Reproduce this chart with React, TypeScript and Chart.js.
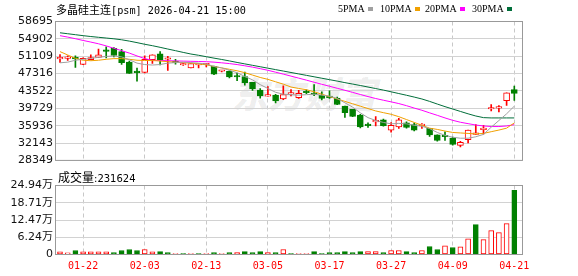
import React, { useEffect, useRef } from "react";
import { Chart, registerables } from "chart.js";

Chart.register(...registerables);

// ---------------- data ----------------
const dates = [
  "01-19", "01-20", "01-21", "01-22", "01-23", "01-26", "01-27", "01-28", "01-29", "01-30",
  "02-02", "02-03", "02-04", "02-05", "02-06", "02-09", "02-10", "02-11", "02-12", "02-13",
  "02-24", "02-25", "02-26", "02-27", "03-02", "03-03", "03-04", "03-05", "03-06", "03-09",
  "03-10", "03-11", "03-12", "03-13", "03-16", "03-17", "03-18", "03-19", "03-20", "03-23",
  "03-24", "03-25", "03-26", "03-27", "03-30", "03-31", "04-01", "04-02", "04-03", "04-07",
  "04-08", "04-09", "04-10", "04-13", "04-14", "04-15", "04-16", "04-17", "04-20", "04-21",
];
const tickDates = ["01-22", "02-03", "02-13", "03-05", "03-17", "03-27", "04-09", "04-21"];

const opens = [
  50544, 50649, 50753, 49332, 50336, 50858, 52321, 52843, 52112, 49813,
  47619, 47577, 50377, 51631, 50440, 49813, 49186, 48559, 49186, 49248,
  48914, 47827, 47827, 46678, 46678, 45382, 43689, 42393, 42644, 41766,
  42811, 42080, 43292, 42853, 42540, 42185, 41976, 40199, 39509, 38276,
  36061, 36750, 37210, 34974, 35664, 36542, 36165, 35956, 35329, 33929,
  33615, 33240, 31630, 32884, 34034, 35079, 39572, 39781, 41390, 43814,
];
const highs = [
  51485, 51213, 51171, 50753, 51422, 52676, 53157, 53011, 52634, 50022,
  48517, 51171, 51422, 52112, 51067, 50440, 49500, 49500, 49395, 49541,
  48977, 47932, 47932, 47410, 47619, 45424, 44023, 44484, 42770, 44650,
  43814, 43647, 43752, 44902, 43334, 43543, 42185, 40199, 39509, 38423,
  36542, 37900, 37377, 36592, 37545, 36750, 36500, 36374, 35329, 33929,
  34618, 33449, 32529, 34974, 36166, 36019, 40554, 40346, 43125, 44588,
];
const lows = [
  49750, 50168, 48663, 49290, 50294, 50858, 50753, 50962, 49332, 47368,
  45633, 47452, 49541, 49186, 48005, 49395, 49081, 48559, 48559, 48768,
  47096, 47661, 46364, 45779, 44797, 43647, 41934, 42393, 40930, 41599,
  42435, 41871, 42916, 42498, 41551, 41871, 40512, 37753, 37900, 35455,
  35538, 35873, 35810, 34493, 35329, 35392, 34765, 35329, 33573, 32529,
  32738, 31693, 31275, 32194, 34034, 34075, 39154, 38945, 40346, 41432,
];
const closes = [
  50753, 50858, 50544, 50649, 50796, 51422, 52175, 51276, 49708, 47368,
  47514, 50440, 51422, 50231, 50649, 49708, 49332, 49500, 49332, 49353,
  47200, 47932, 46573, 46573, 45257, 43961, 42435, 42498, 41348, 42707,
  42916, 43021, 43125, 42749, 41871, 42080, 40554, 38798, 37962, 35664,
  35956, 36897, 35915, 36019, 37210, 35538, 34974, 36061, 33929, 32738,
  33511, 31839, 32320, 34974, 34347, 35183, 39677, 39927, 43125, 42978,
];

const ma5 = [
  49667, 49813, 50231, 50440, 50649, 50858, 51067, 51171, 50962, 50335,
  49604, 49290, 49186, 49290, 49604, 49708, 49813, 49708, 49604, 49395,
  48872, 48559, 48037, 47514, 46678, 45946, 44901, 44065, 43230, 42811,
  42707, 42603, 42707, 42811, 42603, 42394, 41871, 40931, 39990, 38736,
  37691, 37064, 36646, 36333, 36437, 36333, 36019, 35810, 35288, 34453,
  33826, 33407, 33198, 33198, 33511, 34034, 35601, 37064, 38527, 40199,
];
const ma10 = [
  52112, 51380, 50649, 50231, 50126, 50231, 50440, 50587, 50587, 50440,
  50231, 50168, 50168, 50064, 49917, 49813, 49708, 49604, 49436, 49228,
  48872, 48559, 48246, 47932, 47514, 46991, 46469, 46051, 45528, 45006,
  44379, 44065, 43794, 43334, 42812, 42289, 41767, 41244, 40722, 40199,
  39677, 39154, 38778, 38423, 37900, 37273, 36646, 36019, 35392, 35120,
  34765, 34452, 34347, 34242, 34138, 34242, 34619, 34974, 35392, 36541,
];
const ma20 = [
  55602, 55289, 54934, 54557, 54202, 53826, 53366, 52844, 52321, 51799,
  51172, 50586, 50231, 50168, 50126, 50085, 50043, 50001, 49959, 49917,
  49813, 49667, 49500, 49290, 49019, 48726, 48392, 48037, 47619, 47200,
  46762, 46323, 45884, 45424, 44985, 44546, 44107, 43668, 43209, 42749,
  42289, 41871, 41495, 41140, 40764, 40304, 39781, 39300, 38736, 38193,
  37627, 37105, 36687, 36374, 36082, 35872, 35747, 35747, 35872, 36165,
];
const ma30 = [
  56229, 56020, 55811, 55602, 55414, 55247, 55080, 54913, 54704, 54411,
  54077, 53721, 53408, 53053, 52677, 52321, 51945, 51590, 51318, 51004,
  50691, 50398, 50085, 49750, 49437, 49123, 48810, 48496, 48183, 47869,
  47556, 47242, 46929, 46615, 46302, 45988, 45675, 45340, 45027, 44713,
  44379, 44045, 43710, 43334, 42958, 42582, 42185, 41767, 41244, 40659,
  40095, 39572, 39049, 38527, 38046, 37691, 37628, 37628, 37628, 37628,
];

const volumes = [
  9600, 6000, 14400, 9600, 9600, 9600, 9600, 7200, 14400, 18000,
  14400, 18000, 9600, 10800, 7200, 3600, 3600, 3600, 3600, 3600,
  7200, 3600, 7200, 7200, 10800, 7200, 10800, 7200, 7200, 18000,
  3600, 3600, 3600, 10800, 3600, 7200, 7200, 10800, 7200, 10800,
  10800, 10800, 7200, 14400, 14400, 10800, 7200, 14400, 28800, 18000,
  31200, 25200, 27600, 56400, 107900, 54000, 86300, 79100, 111500, 231624,
];
// R = rising (red), G = falling (green), as coloured in the volume pane
const volumeDirs = "RRGRRRRGGGGRRGGRGRGRGRGRGGGRGRGRRGGGGGGGRRGRRGGRGGRGRRGRRRRG".split("");

const priceTicks = [58695, 54902, 51109, 47316, 43522, 39729, 35936, 32143, 28349];
const volumeTicks = [0, 62350, 124700, 187050, 249400];
const volumeTickLabels = ["0", "6.24万", "12.47万", "18.71万", "24.94万"];

const titleName = "多晶硅主连";
const titleCode = "[psm]";
const titleTime = "2026-04-21 15:00";
const volumeTitleName = "成交量";
const volumeTitleValue = ":231624";
const maLabels = ["5PMA", "10PMA", "20PMA", "30PMA"];
const watermark = "东方财富";

// ---------------- styles ----------------
const UP = "#ff0000";
const DOWN = "#008000";
const MA_COLORS = ["#a0a0a0", "#f0a000", "#ff00ff", "#006e3a"];
const LEGEND_X = [338, 380, 425, 472];
const FRAME = "#999999";
const GRID = "#d2d2d2";
const AXIS_FONT = "'DejaVu Sans', 'Noto Sans CJK SC', sans-serif";
const MONO_FONT = "'DejaVu Sans Mono', monospace";
const X_MIN = -0.52;
const X_MAX = 60;
const AXIS_W = 56;

const framePlugin = {
  id: "frame",
  afterDraw(chart: any) {
    const { ctx, chartArea: a } = chart;
    ctx.save();
    ctx.strokeStyle = FRAME;
    ctx.lineWidth = 1;
    ctx.strokeRect(a.left - 0.5, a.top, a.right - a.left + 1, a.bottom - a.top);
    ctx.restore();
  },
};

export default function App() {
  const priceRef = useRef<HTMLCanvasElement>(null);
  const volRef = useRef<HTMLCanvasElement>(null);

  useEffect(() => {
    const labelIdx = tickDates.map((d) => dates.indexOf(d));
    const up = (i: number) => closes[i] >= opens[i];

    const xBase = (showLabels: boolean, height: number) => ({
      type: "linear" as const,
      min: X_MIN,
      max: X_MAX,
      offset: false,
      afterBuildTicks: (s: any) => {
        s.ticks = labelIdx.map((v) => ({ value: v }));
      },
      afterFit: (s: any) => {
        s.height = height;
      },
      grid: { color: "#c8c8c8", lineWidth: 1, drawTicks: false, offset: false },
      border: { display: false, dash: [4, 3] },
      ticks: {
        display: showLabels,
        autoSkip: false,
        maxRotation: 0,
        padding: 6,
        color: UP,
        font: { family: MONO_FONT, size: 10 },
        callback: (v: any) => dates[v] ?? "",
      },
    });

    const price = new Chart(priceRef.current as HTMLCanvasElement, {
      type: "bar",
      data: {
        datasets: [
          ...[ma5, ma10, ma20, ma30].map((vals, k) => ({
            type: "line" as const,
            label: maLabels[k],
            data: vals.map((y, i) => ({ x: i, y })),
            borderColor: MA_COLORS[k],
            borderWidth: 1,
            pointRadius: 0,
            tension: 0,
            order: 0,
          })),
          {
            type: "bar" as const,
            label: "body",
            data: opens.map((o, i) => ({ x: i, y: [o, closes[i]] })),
            backgroundColor: opens.map((o, i) => (closes[i] > o ? "#ffffff" : up(i) ? UP : DOWN)),
            borderColor: opens.map((_, i) => (up(i) ? UP : DOWN)),
            borderWidth: 1,
            borderSkipped: false,
            barThickness: 6,
            minBarLength: 1.5,
            grouped: false,
            order: 1,
          },
          {
            type: "bar" as const,
            label: "wick",
            data: lows.map((l, i) => ({ x: i, y: [l, highs[i]] })),
            backgroundColor: lows.map((_, i) => (up(i) ? UP : DOWN)),
            borderWidth: 0,
            barThickness: 1,
            grouped: false,
            order: 2,
          },
        ] as any,
      },
      options: {
        animation: false,
        responsive: false,
        layout: { padding: { top: 21.5, right: 578 - 522, bottom: 4.5, left: 0 } },
        plugins: { legend: { display: false }, tooltip: { enabled: false } },
        scales: {
          x: xBase(false, 0) as any,
          y: {
            min: priceTicks[priceTicks.length - 1],
            max: priceTicks[0],
            afterBuildTicks: (s: any) => {
              s.ticks = priceTicks.map((v) => ({ value: v }));
            },
            afterFit: (s: any) => {
              s.width = AXIS_W;
            },
            grid: { color: GRID, drawTicks: false },
            border: { display: false },
            ticks: {
              padding: 3,
              color: "#111",
              font: { family: AXIS_FONT, size: 11 },
              callback: (v: any) => String(v),
            },
          },
        },
      },
      plugins: [framePlugin],
    });

    const volume = new Chart(volRef.current as HTMLCanvasElement, {
      type: "bar",
      data: {
        datasets: [
          {
            label: "volume",
            data: volumes.map((v, i) => ({ x: i, y: v })),
            backgroundColor: volumeDirs.map((d) => (d === "R" ? "#ffffff" : DOWN)),
            borderColor: volumeDirs.map((d) => (d === "R" ? UP : DOWN)),
            borderWidth: 1,
            borderSkipped: false,
            barThickness: 5,
            minBarLength: 1,
            grouped: false,
          },
        ] as any,
      },
      options: {
        animation: false,
        responsive: false,
        layout: { padding: { top: 15.5, right: 578 - 522, bottom: 0, left: 0 } },
        plugins: { legend: { display: false }, tooltip: { enabled: false } },
        scales: {
          x: xBase(true, 21.5) as any,
          y: {
            min: volumeTicks[0],
            max: volumeTicks[volumeTicks.length - 1],
            afterBuildTicks: (s: any) => {
              s.ticks = volumeTicks.map((v) => ({ value: v }));
            },
            afterFit: (s: any) => {
              s.width = AXIS_W;
            },
            grid: { color: GRID, drawTicks: false },
            border: { display: false },
            ticks: {
              padding: 3,
              color: "#111",
              font: { family: AXIS_FONT, size: 11 },
              callback: (v: any) => volumeTickLabels[volumeTicks.indexOf(v)] ?? "",
            },
          },
        },
      },
      plugins: [framePlugin],
    });

    return () => {
      price.destroy();
      volume.destroy();
    };
  }, []);

  return (
    <div
      style={{
        position: "absolute",
        left: 0,
        top: 0,
        width: 578,
        height: 276,
        background: "#ffffff",
        overflow: "hidden",
      }}
    >
      <div
        style={{
          position: "absolute",
          left: 232,
          top: 70,
          fontFamily: "'Noto Sans CJK SC'",
          fontWeight: 900,
          fontSize: 36,
          lineHeight: "44px",
          color: "rgba(0,0,0,0.08)",
          letterSpacing: 0,
          whiteSpace: "nowrap",
          fontStyle: "italic",
        }}
      >
        {watermark}
      </div>
      <canvas
        ref={priceRef}
        width={578}
        height={170}
        style={{ position: "absolute", left: 0, top: 0, display: "block" }}
      />
      <canvas
        ref={volRef}
        width={578}
        height={106}
        style={{ position: "absolute", left: 0, top: 170, display: "block" }}
      />
      <div
        style={{
          position: "absolute",
          left: 56,
          top: 2,
          lineHeight: "14px",
          whiteSpace: "nowrap",
          color: "#000",
        }}
      >
        <span style={{ fontFamily: "'Noto Sans CJK SC'", fontSize: 11 }}>{titleName}</span>
        <span style={{ fontFamily: MONO_FONT, fontSize: 10.2 }}>
          {titleCode} {titleTime}
        </span>
      </div>
      {maLabels.map((label, k) => (
        <div
          key={label}
          style={{
            position: "absolute",
            left: LEGEND_X[k],
            top: 3,
            display: "flex",
            alignItems: "center",
            whiteSpace: "nowrap",
            fontFamily: "'Liberation Serif', serif",
            fontSize: 10,
            lineHeight: "12px",
            color: "#000",
          }}
        >
          <span>{label}</span>
          <span
            style={{
              display: "inline-block",
              width: 5,
              height: 4,
              marginLeft: 3,
              background: MA_COLORS[k],
            }}
          />
        </div>
      ))}
      <div
        style={{
          position: "absolute",
          left: 58,
          top: 170,
          lineHeight: "14px",
          whiteSpace: "nowrap",
          color: "#000",
        }}
      >
        <span style={{ fontFamily: "'Noto Sans CJK SC'", fontSize: 12 }}>{volumeTitleName}</span>
        <span style={{ fontFamily: "'DejaVu Sans'", fontSize: 10 }}>{volumeTitleValue}</span>
      </div>
    </div>
  );
}
